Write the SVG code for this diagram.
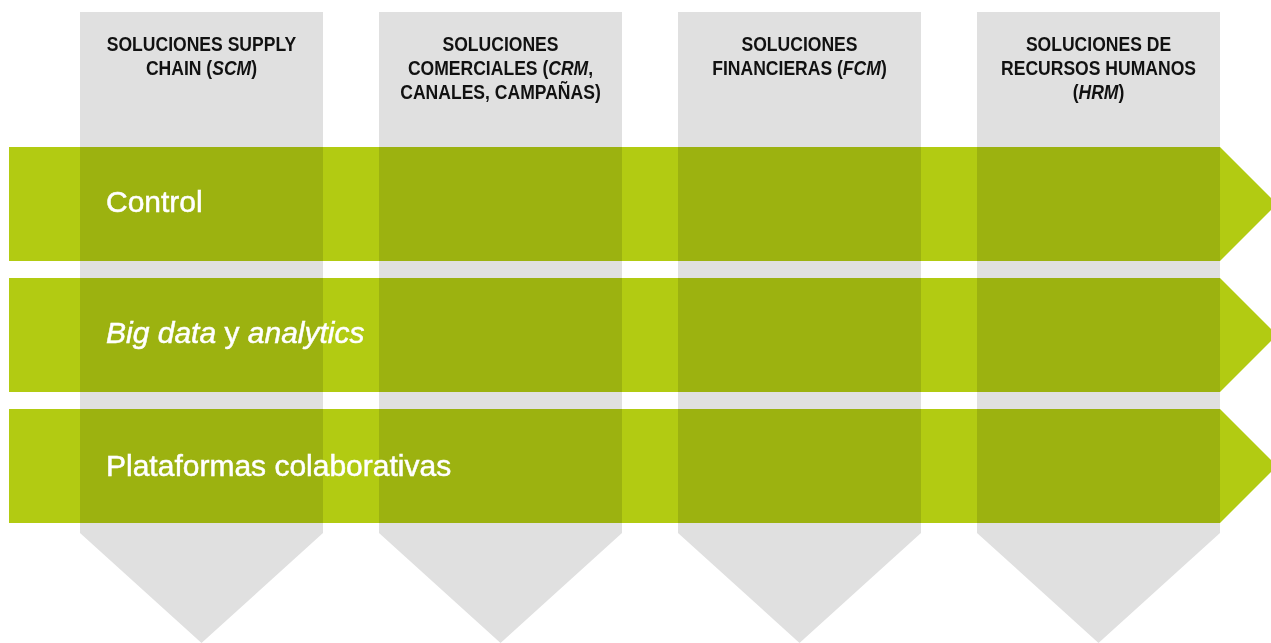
<svg xmlns="http://www.w3.org/2000/svg" width="1271" height="643" viewBox="0 0 1271 643">
<style>
.row{fill:#b2cb12}
.col{fill:#e0e0e0;mix-blend-mode:multiply}
.hdr{font-family:"Liberation Sans",Arial,sans-serif;font-weight:bold;font-size:19.5px;fill:#111;text-anchor:middle}
.lbl{font-family:"Liberation Sans",Arial,sans-serif;font-size:30px;fill:#fff;stroke:#fff;stroke-width:0.5}
.it{font-style:italic}
</style>
<rect width="1271" height="643" fill="#fff"/>
<g id="rows">
<g id="row-control"><polygon class="row" points="9,147 1220,147 1277,204 1220,261 9,261"/></g>
<g id="row-bigdata"><polygon class="row" points="9,278 1220,278 1277,335 1220,392 9,392"/></g>
<g id="row-plataformas"><polygon class="row" points="9,409 1220,409 1277,466 1220,523 9,523"/></g>
</g>
<g id="columns">
<g id="col-scm"><polygon class="col" points="80,12 323,12 323,533 201.5,643 80,533"/></g>
<g id="col-crm"><polygon class="col" points="379,12 622,12 622,533 500.5,643 379,533"/></g>
<g id="col-fcm"><polygon class="col" points="678,12 921,12 921,533 799.5,643 678,533"/></g>
<g id="col-hrm"><polygon class="col" points="977,12 1220,12 1220,533 1098.5,643 977,533"/></g>
</g>
<g id="column-labels">
<g transform="translate(201.5,0) scale(0.9,1)">
<text class="hdr" x="0" y="51.5">SOLUCIONES SUPPLY</text>
<text class="hdr" x="0" y="75.5">CHAIN (<tspan class="it">SCM</tspan>)</text>
</g>
<g transform="translate(500.5,0) scale(0.9,1)">
<text class="hdr" x="0" y="51.5">SOLUCIONES</text>
<text class="hdr" x="0" y="75.5">COMERCIALES (<tspan class="it">CRM</tspan>,</text>
<text class="hdr" x="0" y="99.5">CANALES, CAMPAÑAS)</text>
</g>
<g transform="translate(799.5,0) scale(0.9,1)">
<text class="hdr" x="0" y="51.5">SOLUCIONES</text>
<text class="hdr" x="0" y="75.5">FINANCIERAS (<tspan class="it">FCM</tspan>)</text>
</g>
<g transform="translate(1098.5,0) scale(0.9,1)">
<text class="hdr" x="0" y="51.5">SOLUCIONES DE</text>
<text class="hdr" x="0" y="75.5">RECURSOS HUMANOS</text>
<text class="hdr" x="0" y="99.5">(<tspan class="it">HRM</tspan>)</text>
</g>
</g>
<g id="row-labels">
<text class="lbl" x="106" y="212">Control</text>
<text class="lbl" x="106" y="343"><tspan class="it">Big data</tspan> y <tspan class="it">analytics</tspan></text>
<text class="lbl" x="106" y="476">Plataformas colaborativas</text>
</g>
</svg>
